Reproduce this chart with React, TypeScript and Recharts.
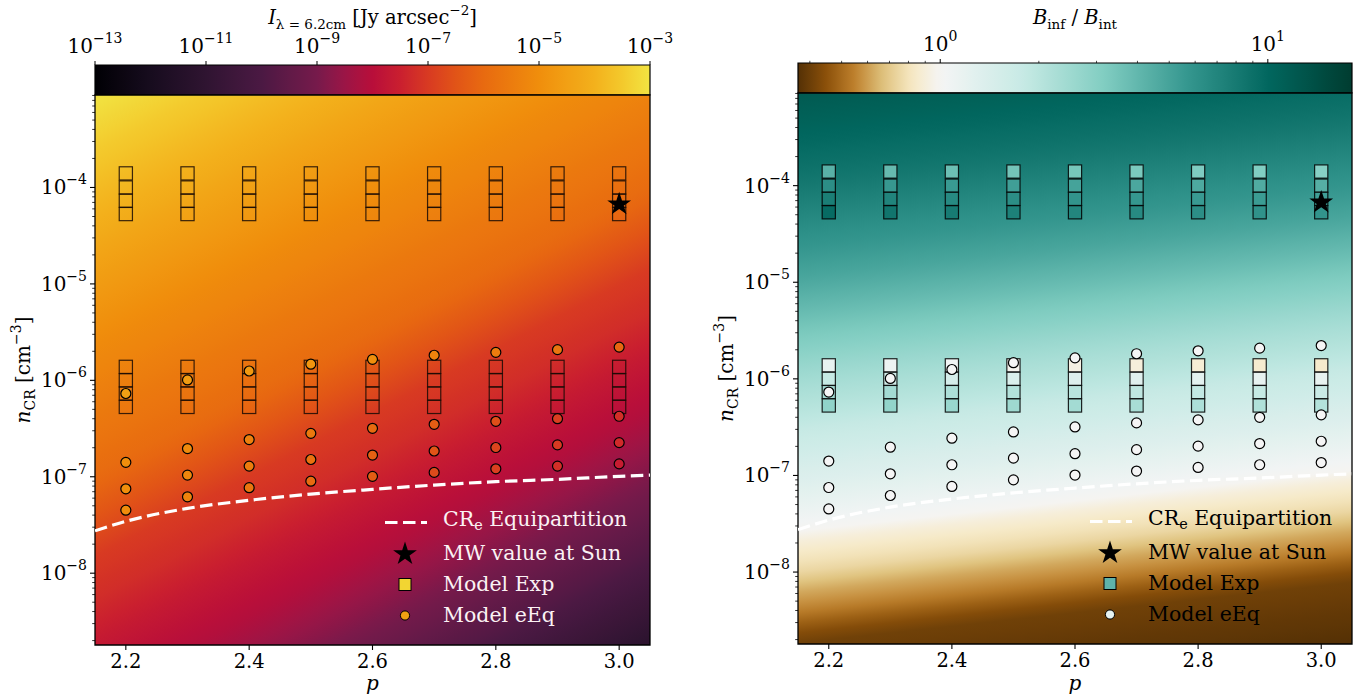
import React from 'react';
import { ScatterChart, Scatter, XAxis, YAxis, CartesianGrid, ReferenceArea, Legend } from 'recharts';

const FONT = '"DejaVu Serif", "Liberation Serif", serif';

// ---- values -----------------------------------------------------------------
const P_VALUES = [2.2, 2.3, 2.4, 2.5, 2.6, 2.7, 2.8, 2.9, 3.0];

// n_CR of the "Model Exp" boxes, top to bottom (same for every p)
const EXP_DENSITY = [1.4e-4, 1.0e-4, 7.3e-5, 5.3e-5, 1.38e-6, 1.0e-6, 7.3e-7, 5.3e-7];

// B_inf / B_int of every box, one row per p, same order as EXP_DENSITY
const EXP_RATIO = [
  [4.3, 6.3, 7.6, 9.5, 1.2, 1.8, 2.4, 2.8],
  [3.9, 5.6, 7.1, 8.5, 1.1, 1.6, 2.4, 2.75],
  [3.7, 5.5, 6.6, 7.9, 1.05, 1.5, 2.2, 2.6],
  [3.5, 5.2, 6.3, 7.4, 0.97, 1.4, 2.1, 2.5],
  [3.4, 5.0, 5.9, 6.9, 0.93, 1.35, 2.0, 2.4],
  [3.3, 4.8, 5.7, 6.6, 0.9, 1.3, 1.9, 2.3],
  [3.2, 4.7, 5.5, 6.3, 0.88, 1.25, 1.85, 2.2],
  [3.15, 4.6, 5.4, 6.0, 0.86, 1.2, 1.8, 2.15],
  [3.0, 4.4, 5.2, 5.9, 0.85, 1.18, 1.75, 2.1],
];

// "Model eEq" circles, one row per p
const EEQ_DENSITY = [
  [7.3e-7, 1.41e-7, 7.5e-8, 4.5e-8],
  [1.01e-6, 1.96e-7, 1.04e-7, 6.2e-8],
  [1.25e-6, 2.43e-7, 1.29e-7, 7.7e-8],
  [1.47e-6, 2.82e-7, 1.51e-7, 9.0e-8],
  [1.65e-6, 3.18e-7, 1.68e-7, 1.01e-7],
  [1.82e-6, 3.5e-7, 1.85e-7, 1.11e-7],
  [1.95e-6, 3.76e-7, 2.01e-7, 1.21e-7],
  [2.08e-6, 4.0e-7, 2.14e-7, 1.29e-7],
  [2.21e-6, 4.24e-7, 2.26e-7, 1.36e-7],
];
// log10 I (Jy arcsec^-2) of the circles, left panel colour
const EEQ_LOG_I = [
  [-4.5, -5.0, -5.0, -5.05],
  [-4.6, -5.1, -5.2, -5.3],
  [-4.7, -5.4, -5.5, -5.7],
  [-4.8, -5.6, -5.8, -6.0],
  [-5.0, -6.0, -6.2, -6.3],
  [-5.3, -6.3, -6.5, -6.7],
  [-5.5, -6.6, -6.8, -6.9],
  [-5.7, -6.9, -7.0, -7.2],
  [-6.1, -7.2, -7.3, -7.6],
];

// CR_e equipartition curve
const EQUIP_P = [2.15, 2.2, 2.3, 2.4, 2.5, 2.6, 2.7, 2.8, 2.9, 3.0, 3.05];
const EQUIP_N = [2.75e-8, 3.45e-8, 4.7e-8, 5.7e-8, 6.6e-8, 7.4e-8, 8.2e-8, 8.9e-8, 9.4e-8, 1.01e-7, 1.04e-7];

// Milky Way value at the Sun
const MW_P = 3.0;
const MW_N = 6.7e-5;

// axes
const X_MIN = 2.15;
const X_MAX = 3.05;
const Y_MIN = 1.8e-9;
const Y_MAX = 9.1e-4;
const X_TICKS = [2.2, 2.4, 2.6, 2.8, 3.0];
const I_TICKS = [1e-13, 1e-11, 1e-9, 1e-7, 1e-5, 1e-3];
const R_MAJOR = [1, 10];
const R_MINOR = [0.4, 0.5, 0.6, 0.7, 0.8, 0.9, 2, 3, 4, 5, 6, 7, 8, 9];
const R_MIN = 0.368;
const R_MAX = 18.07;

// ---- colour maps ---------------------------------------------------------------
const INFERNO: [number, string][] = [
  [-13, '#000004'], [-12, '#170c1e'], [-11, '#2f1431'], [-10, '#4b1943'], [-9, '#761a4b'],
  [-8.5, '#9b1546'], [-8, '#b80e3a'], [-7.5, '#ca1f2f'], [-7, '#d83a22'], [-6.5, '#e15417'],
  [-6, '#e86a10'], [-5, '#f08e0c'], [-4, '#f3b11c'], [-3.5, '#f3c92c'], [-3, '#f2e442'],
];
const BRBG: [number, string][] = [
  [0, '#543005'], [0.1, '#8c510a'], [0.2, '#bf812d'], [0.3, '#dfc27d'], [0.4, '#f6e8c3'],
  [0.5, '#f5f5f5'], [0.6, '#c7eae5'], [0.7, '#80cdc1'], [0.8, '#35978f'], [0.9, '#01665e'], [1, '#003c30'],
];
const LR_MIN = Math.log10(R_MIN);
const LR_MAX = Math.log10(R_MAX);

// background fields: position along gradient axis -> value
const LEFT_BG: [number, number][] = [
  [0, -3.0], [0.282, -5.0], [0.459, -6.0], [0.55, -7.0], [0.6, -7.25], [0.658, -7.7], [0.725, -8.15],
  [0.886, -9.8], [1, -11.2],
];
const RIGHT_BG: [number, number][] = [
  [0, 1.08], [0.137, 0.93], [0.306, 0.68], [0.469, 0.38], [0.567, 0.23], [0.633, 0.13], [0.682, 0.05],
  [0.714, 0.0], [0.739, -0.06], [0.78, -0.12], [0.812, -0.2], [0.845, -0.26], [0.878, -0.35], [0.9, -0.39], [1, -0.434],
];

const hex = (c: string) => [1, 3, 5].map((i) => parseInt(c.slice(i, i + 2), 16));
const mix = (a: string, b: string, f: number) => {
  const A = hex(a);
  const B = hex(b);
  return 'rgb(' + A.map((v, i) => Math.round(v + (B[i] - v) * f)).join(',') + ')';
};
function lookup(stops: [number, string][], v: number) {
  if (v <= stops[0][0]) return mix(stops[0][1], stops[0][1], 0);
  for (let i = 1; i < stops.length; i++) {
    if (v <= stops[i][0]) {
      const [v0, c0] = stops[i - 1];
      const [v1, c1] = stops[i];
      return mix(c0, c1, (v - v0) / (v1 - v0));
    }
  }
  const last = stops[stops.length - 1][1];
  return mix(last, last, 0);
}
function along(pts: [number, number][], u: number) {
  for (let i = 1; i < pts.length; i++) {
    if (u <= pts[i][0]) {
      const [u0, v0] = pts[i - 1];
      const [u1, v1] = pts[i];
      return v0 + ((u - u0) / (u1 - u0)) * (v1 - v0);
    }
  }
  return pts[pts.length - 1][1];
}
const ratioColor = (lr: number) => {
  const t = lr < 0 ? (0.5 * (lr - LR_MIN)) / -LR_MIN : 0.5 + (0.5 * lr) / LR_MAX;
  return lookup(BRBG, Math.max(0, Math.min(1, t)));
};
const steps = (n: number) => Array.from({ length: n + 1 }, (_, i) => i / n);

const intensityBar = steps(40).map((u) => ({ offset: u, color: lookup(INFERNO, -13 + 10 * u) }));
const ratioBar = steps(60).map((u) => ({ offset: u, color: ratioColor(LR_MIN + u * (LR_MAX - LR_MIN)) }));
const leftBg = steps(60).map((u) => ({ offset: u, color: lookup(INFERNO, along(LEFT_BG, u)) }));
const rightBg = steps(60).map((u) => ({ offset: u, color: ratioColor(along(RIGHT_BG, u)) }));

// ---- series data -----------------------------------------------------------------
const expPoints = P_VALUES.flatMap((p, i) => EXP_DENSITY.map((n, j) => ({ p, n, ratio: EXP_RATIO[i][j] })));
const eEqPoints = P_VALUES.flatMap((p, i) => EEQ_DENSITY[i].map((n, j) => ({ p, n, logI: EEQ_LOG_I[i][j] })));
const equipLine = EQUIP_P.map((p, i) => ({ p, n: EQUIP_N[i] }));
const mwPoint = [{ p: MW_P, n: MW_N }];

const Y_TICKS: number[] = [];
for (let e = -9; e <= -4; e++) {
  for (let k = 1; k <= 9; k++) {
    const v = k * Math.pow(10, e);
    if (v >= Y_MIN && v <= Y_MAX) Y_TICKS.push(v);
  }
}

// ---- marks -------------------------------------------------------------------------
function starPath(cx: number, cy: number, R: number) {
  const r = R * 0.382;
  let d = '';
  for (let i = 0; i < 10; i++) {
    const a = -Math.PI / 2 + (i * Math.PI) / 5;
    const rr = i % 2 === 0 ? R : r;
    d += (i === 0 ? 'M' : 'L') + (cx + rr * Math.cos(a)).toFixed(2) + ',' + (cy + rr * Math.sin(a)).toFixed(2);
  }
  return d + 'Z';
}

const MINUS = '\u2212';
const TICK_FS = 20;
const SUP_FS = 14;

function LogYTick(props: any) {
  const { x, y, payload } = props;
  const lv = Math.log10(payload.value);
  const e = Math.round(lv);
  const major = Math.abs(lv - e) < 1e-6;
  return (
    <g>
      <line x1={x} x2={x - (major ? 5 : 2.8)} y1={y} y2={y} stroke="#000" strokeWidth={major ? 1.1 : 0.8} />
      {major && (
        <text x={x - 8} y={y + 7} textAnchor="end" fontFamily={FONT} fontSize={TICK_FS} fill="#000">
          10<tspan dy={-10} fontSize={SUP_FS}>{MINUS + -e}</tspan>
        </text>
      )}
    </g>
  );
}

function PTick(props: any) {
  const { x, y, payload } = props;
  return (
    <g>
      <line x1={x} x2={x} y1={y} y2={y + 5} stroke="#000" strokeWidth={1.1} />
      <text x={x} y={y + 23} textAnchor="middle" fontFamily={FONT} fontSize={19.5} fill="#000">
        {payload.value.toFixed(1)}
      </text>
    </g>
  );
}

function IntensityTick(props: any) {
  const { x, y, payload } = props;
  const e = Math.round(Math.log10(payload.value));
  return (
    <g>
      <line x1={x} x2={x} y1={y} y2={y - 4} stroke="#000" strokeWidth={1} />
      <text x={x} y={y - 12} textAnchor="middle" fontFamily={FONT} fontSize={TICK_FS} fill="#000">
        10<tspan dy={-10} fontSize={SUP_FS}>{MINUS + -e}</tspan>
      </text>
    </g>
  );
}

function RatioTick(props: any) {
  const { x, y, payload } = props;
  const lv = Math.log10(payload.value);
  const e = Math.round(lv);
  const major = Math.abs(lv - e) < 1e-6;
  return (
    <g>
      <line x1={x} x2={x} y1={y} y2={y - (major ? 4 : 2.2)} stroke="#000" strokeWidth={major ? 1 : 0.7} />
      {major && (
        <text x={x} y={y - 12} textAnchor="middle" fontFamily={FONT} fontSize={TICK_FS} fill="#000">
          10<tspan dy={-10} fontSize={SUP_FS}>{String(e)}</tspan>
        </text>
      )}
    </g>
  );
}

// ---- legend ----------------------------------------------------------------------
function PanelLegend({ textColor, squareFill, circleFill }: { textColor: string; squareFill: string; circleFill: string }) {
  const row = (marker: React.ReactNode, label: React.ReactNode) => (
    <div style={{ display: 'flex', alignItems: 'center', height: 31 }}>
      <svg width={50} height={31} style={{ display: 'block' }}>
        {marker}
      </svg>
      <span style={{ marginLeft: 13, whiteSpace: 'nowrap' }}>{label}</span>
    </div>
  );
  return (
    <div style={{ fontFamily: FONT, fontSize: 20.5, color: textColor, lineHeight: '31px' }}>
      {row(
        <line x1={5} x2={47} y1={15.5} y2={15.5} stroke="#fff" strokeWidth={3.2} strokeDasharray="12.5 5.5" />,
        <>
          CR<sub style={{ fontSize: '0.7em', verticalAlign: '-0.25em' }}>e</sub> Equipartition
        </>
      )}
      {row(<path d={starPath(25, 16, 12.5)} fill="#000" />, 'MW value at Sun')}
      {row(<rect x={19} y={9.5} width={12} height={12} fill={squareFill} stroke="#000" strokeWidth={1} />, 'Model Exp')}
      {row(<circle cx={25} cy={15.5} r={4.6} fill={circleFill} stroke="#000" strokeWidth={1} />, 'Model eEq')}
    </div>
  );
}

// ---- panels ----------------------------------------------------------------------
type PanelProps = {
  id: string;
  width: number;
  plotTop: number;
  plotBottom: number;
  marginRight: number;
  bg: { offset: number; color: string }[];
  bgFrom: [number, number];
  bgTo: [number, number];
  squareFill: (d: any) => string;
  squareStroke: string;
  circleFill: (d: any) => string;
  legend: React.ReactNode;
  legendLeft: number;
  legendTop: number;
};

function Panel(props: PanelProps) {
  const { id, width, plotTop, plotBottom, marginRight, bg, bgFrom, bgTo } = props;
  const height = 698;
  const midX = 95 + (width - marginRight - 95) / 2;
  const midY = (plotTop + plotBottom) / 2;
  return (
    <ScatterChart
      width={width}
      height={height}
      margin={{ top: plotTop, right: marginRight, bottom: height - plotBottom - 40, left: 35 }}
    >
      <defs>
        <linearGradient id={id} gradientUnits="userSpaceOnUse" x1={bgFrom[0]} y1={bgFrom[1]} x2={bgTo[0]} y2={bgTo[1]}>
          {bg.map((s, i) => (
            <stop key={i} offset={s.offset} stopColor={s.color} />
          ))}
        </linearGradient>
      </defs>
      <CartesianGrid horizontal={false} vertical={false} fill={`url(#${id})`} />
      <XAxis
        dataKey="p"
        type="number"
        domain={[X_MIN, X_MAX]}
        allowDataOverflow
        ticks={X_TICKS}
        interval={0}
        height={40}
        axisLine={false}
        tickLine={false}
        tickSize={0}
        tickMargin={0}
        tick={<PTick />}
      />
      <YAxis
        dataKey="n"
        type="number"
        scale="log"
        domain={[Y_MIN, Y_MAX]}
        allowDataOverflow
        ticks={Y_TICKS}
        interval={0}
        width={60}
        axisLine={false}
        tickLine={false}
        tickSize={0}
        tickMargin={0}
        tick={<LogYTick />}
      />
      <Scatter
        name="Model Exp"
        data={expPoints}
        isAnimationActive={false}
        shape={(s: any) => (
          <rect
            x={s.cx - 6.6}
            y={s.cy - 6.6}
            width={13.2}
            height={13.2}
            fill={props.squareFill(s.payload)}
            stroke={props.squareStroke}
            strokeWidth={1.2}
          />
        )}
      />
      <Scatter
        name="Model eEq"
        data={eEqPoints}
        isAnimationActive={false}
        shape={(s: any) => (
          <circle cx={s.cx} cy={s.cy} r={5} fill={props.circleFill(s.payload)} stroke="#000" strokeWidth={1.2} />
        )}
      />
      <Scatter
        name="CRe Equipartition"
        data={equipLine}
        isAnimationActive={false}
        line={{ stroke: '#ffffff', strokeWidth: 3.2, strokeDasharray: '12.5 5.5' }}
        lineJointType="monotoneX"
        shape={() => <g />}
      />
      <Scatter
        name="MW value at Sun"
        data={mwPoint}
        isAnimationActive={false}
        shape={(s: any) => <path d={starPath(s.cx, s.cy, 12.5)} fill="#000" />}
      />
      <ReferenceArea
        x1={X_MIN}
        x2={X_MAX}
        y1={Y_MIN}
        y2={Y_MAX}
        fill="none"
        fillOpacity={0}
        stroke="#000"
        strokeWidth={1.3}
        ifOverflow="visible"
      />
      <Legend
        layout="vertical"
        align="center"
        verticalAlign="middle"
        wrapperStyle={{ left: props.legendLeft, top: props.legendTop, width: 300, height: 124 }}
        content={() => props.legend}
      />
      <text x={midX} y={690} textAnchor="middle" fontFamily={FONT} fontSize={20} fontStyle="italic" fill="#000">
        p
      </text>
      <text
        transform={`translate(30, ${midY}) rotate(-90)`}
        textAnchor="middle"
        fontFamily={FONT}
        fontSize={20}
        fill="#000"
      >
        <tspan fontStyle="italic">n</tspan>
        <tspan dy={5} fontSize={14}>CR</tspan>
        <tspan dy={-5}> [cm</tspan>
        <tspan dy={-9} fontSize={14}>{MINUS + '3'}</tspan>
        <tspan dy={9}>]</tspan>
      </text>
    </ScatterChart>
  );
}

type BarProps = {
  id: string;
  width: number;
  plotTop: number;
  plotBottom: number;
  marginRight: number;
  domain: [number, number];
  ticks: number[];
  tick: React.ReactElement;
  stops: { offset: number; color: string }[];
  title: React.ReactNode;
};

function Colorbar(props: BarProps) {
  const { id, width, plotTop, plotBottom, marginRight, domain } = props;
  const midX = 95 + (width - marginRight - 95) / 2;
  // the two ends of the bar: they give the scale something to hold on to
  const ends = [
    { v: domain[0], y: 0 },
    { v: domain[1], y: 1 },
  ];
  return (
    <ScatterChart
      width={width}
      height={plotBottom + 1}
      margin={{ top: plotTop - 50, right: marginRight, bottom: 1, left: 95 }}
    >
      <defs>
        <linearGradient id={id} x1="0" y1="0" x2="1" y2="0">
          {props.stops.map((s, i) => (
            <stop key={i} offset={s.offset} stopColor={s.color} />
          ))}
        </linearGradient>
      </defs>
      <XAxis
        dataKey="v"
        orientation="top"
        type="number"
        scale="log"
        domain={domain}
        allowDataOverflow
        ticks={props.ticks}
        interval={0}
        height={50}
        axisLine={false}
        tickLine={false}
        tickSize={0}
        tickMargin={0}
        tick={props.tick}
      />
      <YAxis dataKey="y" type="number" domain={[0, 1]} width={0} hide />
      <ReferenceArea
        x1={domain[0]}
        x2={domain[1]}
        y1={0}
        y2={1}
        fill={`url(#${id})`}
        fillOpacity={1}
        stroke="#000"
        strokeWidth={1.2}
        ifOverflow="visible"
      />
      <Scatter data={ends} isAnimationActive={false} shape={() => <g />} />
      <text x={midX} y={24} textAnchor="middle" fontFamily={FONT} fontSize={19.5} fill="#000">
        {props.title}
      </text>
    </ScatterChart>
  );
}

export default function App() {
  return (
    <div style={{ position: 'absolute', left: 0, top: 0, width: 1358, height: 698, background: '#fff' }}>
      <div style={{ position: 'absolute', left: 0, top: 0 }}>
        <Colorbar
          id="cbIntensity"
          width={680}
          plotTop={65}
          plotBottom={95}
          marginRight={30}
          domain={[1e-13, 1e-3]}
          ticks={I_TICKS}
          tick={<IntensityTick />}
          stops={intensityBar}
          title={
            <>
              <tspan fontStyle="italic">I</tspan>
              <tspan dy={5} fontSize={13.5}>{'\u03bb = 6.2cm'}</tspan>
              <tspan dy={-5}> [Jy arcsec</tspan>
              <tspan dy={-9} fontSize={13.5}>{MINUS + '2'}</tspan>
              <tspan dy={9}>]</tspan>
            </>
          }
        />
      </div>
      <div style={{ position: 'absolute', left: 0, top: 0 }}>
        <Panel
          id="bgIntensity"
          width={680}
          plotTop={95}
          plotBottom={645}
          marginRight={30}
          bg={leftBg}
          bgFrom={[95, 95]}
          bgTo={[437, 757]}
          squareFill={() => 'none'}
          squareStroke="rgba(25,10,5,0.85)"
          circleFill={(d) => lookup(INFERNO, d.logI)}
          legend={<PanelLegend textColor="#fbf2f4" squareFill="#f2d532" circleFill="#f0a012" />}
          legendLeft={380}
          legendTop={507}
        />
      </div>
      <div style={{ position: 'absolute', left: 703, top: 0 }}>
        <Colorbar
          id="cbRatio"
          width={655}
          plotTop={63}
          plotBottom={93}
          marginRight={6}
          domain={[R_MIN, R_MAX]}
          ticks={[...R_MINOR, ...R_MAJOR].sort((a, b) => a - b)}
          tick={<RatioTick />}
          stops={ratioBar}
          title={
            <>
              <tspan fontStyle="italic">B</tspan>
              <tspan dy={5} fontSize={13.5}>inf</tspan>
              <tspan dy={-5}> / </tspan>
              <tspan fontStyle="italic">B</tspan>
              <tspan dy={5} fontSize={13.5}>int</tspan>
            </>
          }
        />
      </div>
      <div style={{ position: 'absolute', left: 703, top: 0 }}>
        <Panel
          id="bgRatio"
          width={655}
          plotTop={93}
          plotBottom={644}
          marginRight={6}
          bg={rightBg}
          bgFrom={[95, 93]}
          bgTo={[161, 697]}
          squareFill={(d) => ratioColor(Math.log10(d.ratio))}
          squareStroke="rgba(0,0,0,0.85)"
          circleFill={() => '#f5f5f5'}
          legend={<PanelLegend textColor="#000" squareFill="#5fb3aa" circleFill="#e6f3f2" />}
          legendLeft={382}
          legendTop={506}
        />
      </div>
    </div>
  );
}
